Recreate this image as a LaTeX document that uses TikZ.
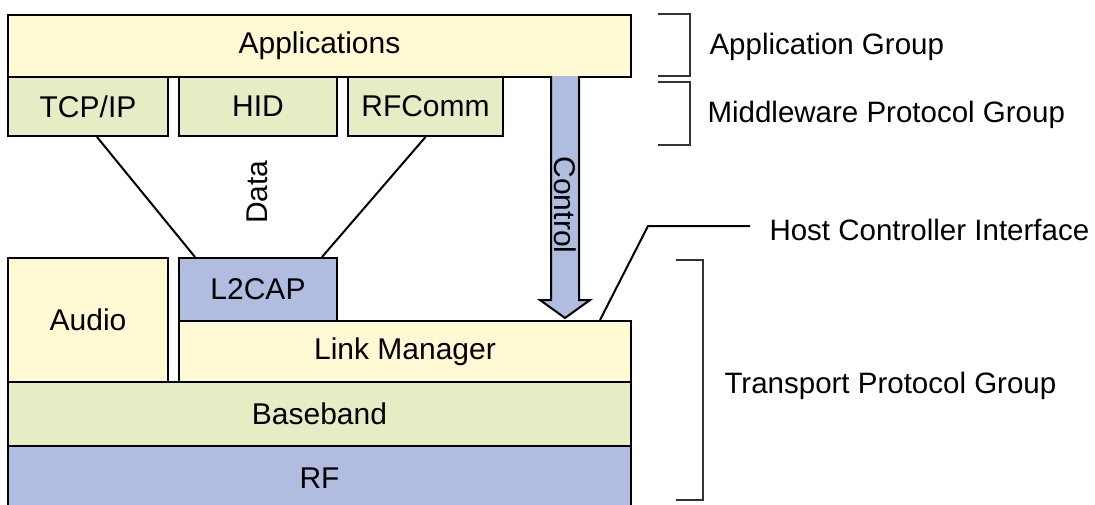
\documentclass[tikz,border=0pt]{standalone}
\usepackage{fontspec}
\setmainfont{Liberation Sans}
\definecolor{appyellow}{RGB}{255,250,212}
\definecolor{midgreen}{RGB}{229,237,196}
\definecolor{lowblue}{RGB}{176,188,224}
\tikzset{
		block/.style   = {shape=rectangle, draw=black, line width=2pt,
				anchor=north west, inner sep=0pt,
				font=\fontsize{30}{36}\selectfont},
		yel/.style     = {block, fill=appyellow},
		grn/.style     = {block, fill=midgreen},
		blu/.style     = {block, fill=lowblue},
		grouplabel/.style = {anchor=west, font=\fontsize{29.5}{36}\selectfont},
		brace/.style   = {draw=black!80, line width=2pt}
	}
\begin{document}
\begin{tikzpicture}
		[x=1pt, y=-1pt]
		\useasboundingbox (0,0) rectangle (1095,504);
		% upper stack
		\node [yel, minimum width=623pt, minimum height=62pt] (app) at (7,14) {Applications};
		\node [grn, minimum width=160pt, minimum height=59pt] (tcp) at (7,76) {TCP/IP};
		\node [grn, minimum width=158pt, minimum height=59pt] (hid) at (178,76) {HID};
		\node [grn, minimum width=155pt, minimum height=59pt] (rfc) at (347,76) {RFComm};
		% lower stack
		\node [yel, minimum width=160pt, minimum height=124pt] (audio) at (7,257) {Audio};
		\node [blu, minimum width=158pt, minimum height=63pt] (l2cap) at (178,257) {L2CAP};
		\node [yel, minimum width=452pt, minimum height=61pt] (lm) at (178,320) {Link Manager};
		\node [grn, minimum width=623pt, minimum height=64pt] (bb) at (7,381) {Baseband};
		\node [blu, minimum width=623pt, minimum height=64pt] (rf) at (7,445) {RF};
		% data path
		\draw [line width=2pt] ([xshift=9pt]tcp.south) -- ([xshift=17pt]l2cap.north west);
		\draw [line width=2pt] (rfc.south) -- ([xshift=-16pt]l2cap.north east);
		\node [rotate=90, font=\fontsize{30}{36}\selectfont] (data) at (257,192) {Data};
		% control arrow
		\draw [fill=lowblue, line width=2pt]
			(551,76) -- (551,300) -- (540,300) -- (565,318) -- (590,300) -- (579,300) -- (579,76);
		\node [rotate=-90, font=\fontsize{30}{36}\selectfont] (ctrl) at (565,205) {Control};
		% host controller interface
		\coordinate (hcibend) at (648,226);
		\coordinate (hciend) at (750,226);
		\draw [line width=2pt] ([xshift=-32pt]lm.north east) -- (hcibend) -- (hciend);
		\node [grouplabel] (hci) at (766,230) {Host Controller Interface};
		% groups
		\draw [brace] (658,14) -- (690,14) -- (690,76) -- (658,76);
		\node [grouplabel] (appgrp) at (706,47) {Application Group};
		\draw [brace] (658,82) -- (690,82) -- (690,145) -- (658,145);
		\node [grouplabel] (midgrp) at (704,115) {Middleware Protocol Group};
		\draw [brace] (676,260) -- (703,260) -- (703,500) -- (676,500);
		\node [grouplabel] (trgrp) at (721,386) {Transport Protocol Group};
	\end{tikzpicture}
\end{document}
